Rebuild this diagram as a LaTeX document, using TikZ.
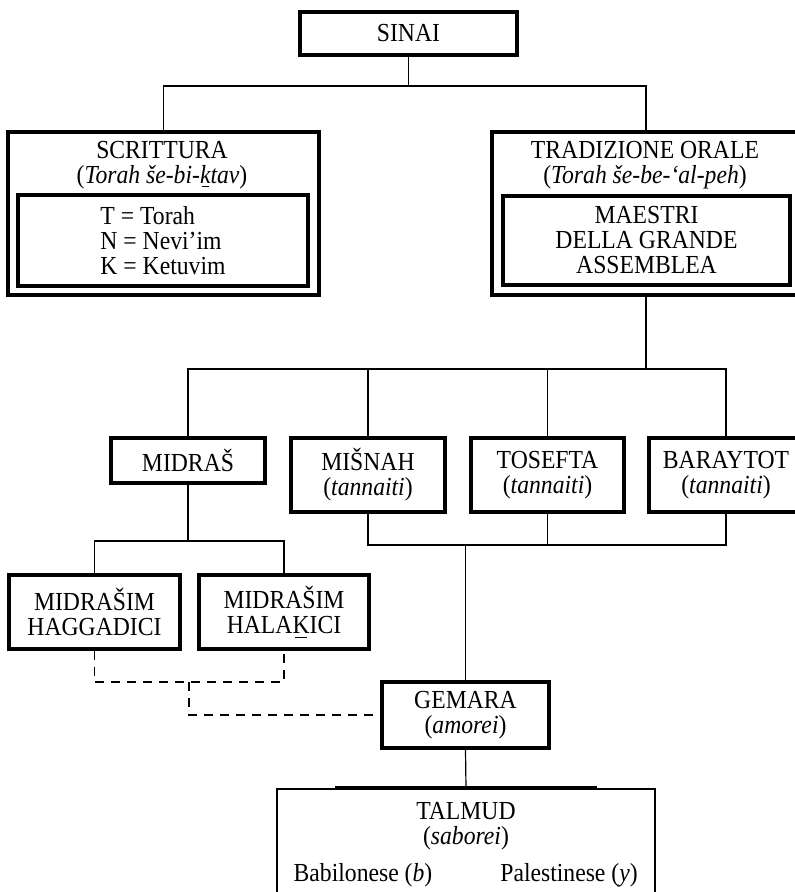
\documentclass[tikz,border=0pt]{standalone}
\usepackage{fontspec}
\setmainfont{Liberation Serif}[FakeStretch=0.91]
\newcommand\kbar[1]{\setbox0\hbox{#1}\hbox{\rlap{\hbox to\wd0{\hss\rule[-4pt]{0.7\wd0}{1pt}\hss}}\box0}}
\begin{document}
\begin{tikzpicture}[x={(1pt,0)}, y={(0,-1pt)},
  bx/.style={draw, line width=3.2pt, rectangle, inner sep=0pt, font=\fontsize{26}{25}\selectfont, align=center},
  txt/.style={inner sep=0pt, font=\fontsize{26}{25}\selectfont, align=center},
  conn/.style={line width=1.2pt},
  dashconn/.style={line width=1.2pt, dash pattern=on 9pt off 7pt}]
\useasboundingbox (0,0) rectangle (795,892);

% boxes
\node[bx, minimum width=217, minimum height=43] (sinai) at (408.5,33.5) {SINAI};
\node[bx, minimum width=311, minimum height=163] (scritt) at (163.5,213.5) {};
\node[txt] (scrtitle) at (162,165) {SCRITTURA\\(\textit{Torah še-bi-\kbar{k}tav})};
\node[bx, minimum width=290, minimum height=91, align=left] (scritin) at (163,240.5) {T = Torah\\N = Nevi’im\\K = Ketuvim};
\node[bx, minimum width=308, minimum height=163] (trad) at (646,213.5) {};
\node[txt] (tradtitle) at (645,165) {TRADIZIONE ORALE\\(\textit{Torah še-be-‘al-peh})};
\node[bx, minimum width=287, minimum height=89] (tradin) at (646.5,240.5) {MAESTRI\\DELLA GRANDE\\ASSEMBLEA};

\node[bx, minimum width=154, minimum height=45] (midras) at (188,460.5) {MIDRAŠ};
\node[bx, minimum width=154, minimum height=74] (misnah) at (368,475) {MIŠNAH\\(\textit{tannaiti})};
\node[bx, minimum width=153, minimum height=74] (tosefta) at (547.5,475) {TOSEFTA\\(\textit{tannaiti})};
\node[bx, minimum width=154, minimum height=74] (barayt) at (726,475) {BARAYTOT\\(\textit{tannaiti})};

\node[bx, minimum width=171, minimum height=74] (hagg) at (94.5,612) {MIDRAŠIM\\HAGGADICI};
\node[bx, minimum width=170, minimum height=74] (halak) at (284,612) {MIDRAŠIM\\HALA\kbar{K}ICI};

\node[bx, minimum width=167, minimum height=66] (gemara) at (465.5,715) {GEMARA\\(\textit{amorei})};

\node[draw, line width=2pt, rectangle, inner sep=0pt, minimum width=378, minimum height=121] (talmud) at (466,849.5) {};
\node[txt] (talt) at (466,826) {TALMUD\\(\textit{saborei})};
\node[txt, anchor=base] (bab) at (363,881) {Babilonese (\textit{b})};
\node[txt, anchor=base] (pal) at (569,881) {Palestinese (\textit{y})};

% connectors
\coordinate (j1) at (408.5,86);
\draw[conn] (sinai.south) -- (j1);
\draw[conn] (scritt.north) |- (j1) -| (trad.north);

\coordinate (j2) at (646,369);
\draw[conn] (trad.south) -- (trad.south |- j2);
\draw[conn] (midras.north) |- (j2) -| (barayt.north);
\draw[conn] (misnah.north) -- (misnah.north |- j2);
\draw[conn] (tosefta.north) -- (tosefta.north |- j2);

\coordinate (j3) at (465.5,545);
\draw[conn] (misnah.south) |- (j3) -| (barayt.south);
\draw[conn] (tosefta.south) -- (tosefta.south |- j3);
\draw[conn] (j3) -- (gemara.north);

\coordinate (j4) at (188,541);
\draw[conn] (midras.south) -- (j4);
\draw[conn] (hagg.north) |- (j4) -| (halak.north);

\coordinate (j5) at (189,682);
\draw[dashconn] (hagg.south) |- (j5) -| (halak.south);
\draw[dashconn] (j5) |- (gemara.west);

\draw[conn] (gemara.south) -- (talmud.north);
\draw[line width=3.2pt] ([xshift=-131pt]talmud.north) -- ([xshift=131pt]talmud.north);
\end{tikzpicture}
\end{document}
